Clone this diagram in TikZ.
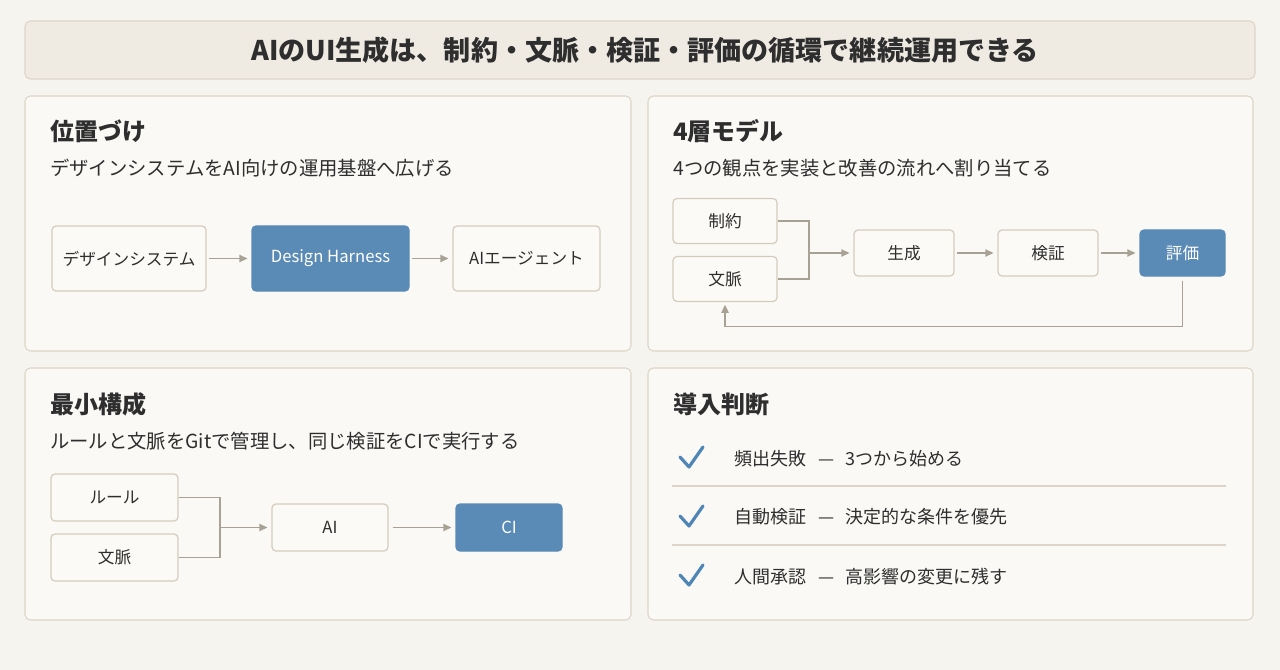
\documentclass[tikz,border=0pt]{standalone}
\usepackage{fontspec}
\setmainfont{Noto Sans CJK JP}
\usetikzlibrary{arrows.meta}
\definecolor{bgcol}{HTML}{F6F4EF}
\definecolor{cardcol}{HTML}{FAF9F6}
\definecolor{bandcol}{HTML}{EFEBE3}
\definecolor{edgecol}{HTML}{DDD4C7}
\definecolor{boxedge}{HTML}{D5CBBC}
\definecolor{boxcol}{HTML}{FBFAF6}
\definecolor{harness}{HTML}{5A8BB6}
\definecolor{wirecol}{HTML}{A8A295}
\definecolor{inkcol}{HTML}{2E2E2E}
\definecolor{tickcol}{HTML}{4F86B6}
\tikzset{
  card/.style={draw=edgecol, fill=cardcol, line width=0.8pt, rounded corners=4pt},
  box/.style={draw=boxedge, fill=boxcol, line width=0.9pt, rounded corners=3pt, inner sep=0pt, text=inkcol, font=\fontsize{12.5}{15}\selectfont},
  bluebox/.style={box, draw=harness, fill=harness, text=white},
  head/.style={anchor=west, inner sep=0pt, text=inkcol, font=\fontsize{18}{22}\selectfont\bfseries},
  sub/.style={anchor=west, inner sep=0pt, text=inkcol, font=\fontsize{14.5}{18}\selectfont},
  item/.style={anchor=west, inner sep=0pt, text=inkcol, font=\fontsize{13.5}{16}\selectfont},
  wire/.style={draw=wirecol, line width=1pt},
  flow/.style={wire, -{Triangle[length=6pt,width=5.5pt]}, shorten >=3pt},
  checkmark/.style={draw=tickcol, line width=2.4pt, line cap=round, line join=round},
  sepline/.style={draw=edgecol, line width=0.8pt}
}
\newcommand{\dashsep}{\hspace{0.7em}—\hspace{0.6em}}
\begin{document}
\begin{tikzpicture}[x=0.75pt, y=-0.75pt]
  \fill[bgcol] (0,0) rectangle (1280,670);
  \draw[card, fill=bandcol] (25,21) rectangle (1255,79);
  \node [text=inkcol, inner sep=0pt, font=\fontsize{20.3}{24}\selectfont\bfseries] (title) at (645,50) {AIのUI生成は、制約・文脈・検証・評価の循環で継続運用できる};
  \draw[card] (25,96) rectangle (631,351);
  \draw[card] (648,96) rectangle (1253,351);
  \draw[card] (25,368) rectangle (631,620);
  \draw[card] (648,368) rectangle (1253,620);

  \node [head] (h1) at (50,131) {位置づけ};
  \node [sub] (s1) at (50,168) {デザインシステムをAI向けの運用基盤へ広げる};
  \node [box, minimum width=115.5pt, minimum height=48.75pt] (ds) at (129,258.5) {デザインシステム};
  \node [bluebox, minimum width=117.75pt, minimum height=48.75pt] (dh) at (330.5,258.5) {Design Harness};
  \node [box, minimum width=110.25pt, minimum height=48.75pt] (agent) at (526.5,258.5) {AIエージェント};
  \draw [flow, shorten <=2pt] (ds) -- (dh);
  \draw [flow, shorten <=2pt] (dh) -- (agent);

  \node [head] (h2) at (673,131) {4層モデル};
  \node [sub] (s2) at (673,168) {4つの観点を実装と改善の流れへ割り当てる};
  \node [box, minimum width=78pt, minimum height=33.75pt] (limit) at (725,221) {制約};
  \node [box, minimum width=78pt, minimum height=33.75pt] (ctx) at (725,279) {文脈};
  \node [box, minimum width=75pt, minimum height=34.5pt] (gen) at (904,253) {生成};
  \node [box, minimum width=75pt, minimum height=34.5pt] (check) at (1048,253) {検証};
  \node [bluebox, minimum width=63.75pt, minimum height=34.5pt] (eval) at (1182.5,253) {評価};
  \coordinate (j2) at (809,253);
  \draw [wire] (limit.east) -| (j2);
  \draw [wire] (ctx.east) -| (j2);
  \draw [flow] (j2) -- (gen);
  \draw [flow, shorten <=2pt] (gen) -- (check);
  \draw [flow, shorten <=2pt] (check) -- (eval);
  \draw [flow, shorten <=3pt, shorten >=2pt] (eval.south) -- ++(0,50) -| (ctx.south);

  \node [head] (h3) at (50,404) {最小構成};
  \node [sub] (s3) at (50,441) {ルールと文脈をGitで管理し、同じ検証をCIで実行する};
  \node [box, minimum width=95.25pt, minimum height=35.25pt] (rules) at (114.5,497.5) {ルール};
  \node [box, minimum width=95.25pt, minimum height=35.25pt] (ctx3) at (114.5,557.5) {文脈};
  \node [box, minimum width=87pt, minimum height=35.25pt] (ai) at (330,527.5) {AI};
  \node [bluebox, minimum width=79.5pt, minimum height=35.25pt] (ci) at (509,527.5) {CI};
  \coordinate (j3) at (220,527.5);
  \draw [wire] (rules.east) -| (j3);
  \draw [wire] (ctx3.east) -| (j3);
  \draw [flow] (j3) -- (ai);
  \draw [flow, shorten <=3pt] (ai) -- (ci);

  \node [head] (h4) at (673,404) {導入判断};
  \draw [checkmark] (680,457) -- (689,467) -- (703,447);
  \draw [checkmark] (680,516) -- (689,526) -- (703,506);
  \draw [checkmark] (680,575) -- (689,585) -- (703,565);
  \node [item] (i1) at (734,459) {頻出失敗\dashsep 3つから始める};
  \node [item] (i2) at (734,517) {自動検証\dashsep 決定的な条件を優先};
  \node [item] (i3) at (734,577) {人間承認\dashsep 高影響の変更に残す};
  \draw [sepline] (672,486) -- (1226,486);
  \draw [sepline] (672,545) -- (1226,545);
\end{tikzpicture}
\end{document}
